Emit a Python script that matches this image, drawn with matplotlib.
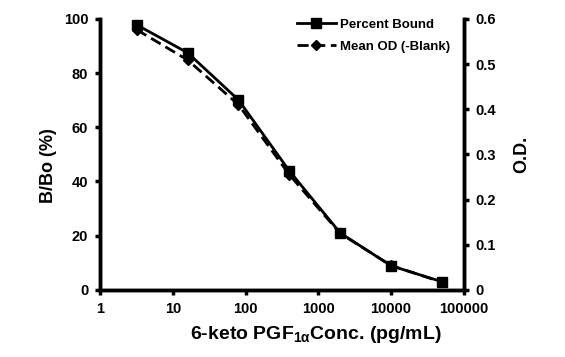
import matplotlib
matplotlib.use("Agg")
import matplotlib.pyplot as plt

plt.rcParams['font.family'] = ['Liberation Sans', 'DejaVu Sans']
plt.rcParams['font.weight'] = 'bold'
plt.rcParams['mathtext.fontset'] = 'custom'
plt.rcParams['mathtext.bf'] = 'Liberation Sans:bold'
plt.rcParams['mathtext.rm'] = 'Liberation Sans:bold'
plt.rcParams['mathtext.default'] = 'bf'

conc = [3.2, 16, 80, 400, 2000, 10000, 50000]
percent_bound = [97.8, 87.5, 70.1, 43.9, 21.0, 8.9, 3.0]
mean_od = [0.576, 0.509, 0.410, 0.255, 0.125, 0.054, 0.017]

fig = plt.figure(figsize=(5.65, 3.57), dpi=100)
ax = fig.add_axes([0.177, 0.188, 0.644, 0.759])
ax2 = ax.twinx()

l1, = ax.plot(conc, percent_bound, color='black', lw=2, marker='s', ms=7,
              label='Percent Bound')
l2, = ax2.plot(conc, mean_od, color='black', lw=2, ls=(0, (4, 2)), marker='D', ms=5,
               label='Mean OD (-Blank)')

ax.set_xscale('log')
ax.set_xlim(1, 100000)
ax.set_ylim(0, 100)
ax2.set_ylim(0, 0.6)
ax.set_xticks([1, 10, 100, 1000, 10000, 100000])
ax.set_xticklabels(['1', '10', '100', '1000', '10000', '100000'])
ax.minorticks_off()
ax.set_yticks([0, 20, 40, 60, 80, 100])
ax2.set_yticks([0, 0.1, 0.2, 0.3, 0.4, 0.5, 0.6])
ax2.set_yticklabels(['0', '0.1', '0.2', '0.3', '0.4', '0.5', '0.6'])

for a in (ax, ax2):
    a.spines['top'].set_visible(False)
    for s in a.spines.values():
        s.set_linewidth(2.5)
    a.tick_params(width=2.5, length=3.5, labelsize=10.5, direction='out', pad=5)
for lab in ax.get_xticklabels() + ax.get_yticklabels() + ax2.get_yticklabels():
    lab.set_fontweight('bold')

ax.set_xlabel('6-keto PGF$_{1α}$Conc. (pg/mL)', fontsize=14, fontweight='bold', labelpad=6)
ax.xaxis.label.set_x(0.593)
ax.set_ylabel('B/Bo (%)', fontsize=13, fontweight='bold', labelpad=5)
ax.yaxis.label.set_y(0.46)
ax2.set_ylabel('O.D.', fontsize=13, fontweight='bold', labelpad=12)

leg = ax.legend(handles=[l1, l2], loc='upper right', bbox_to_anchor=(0.995, 1.045),
                frameon=False, fontsize=9.5, handlelength=3, handletextpad=0.3,
                labelspacing=0.75)
for t in leg.get_texts():
    t.set_fontweight('bold')

fig.savefig('out.png', dpi=100)
